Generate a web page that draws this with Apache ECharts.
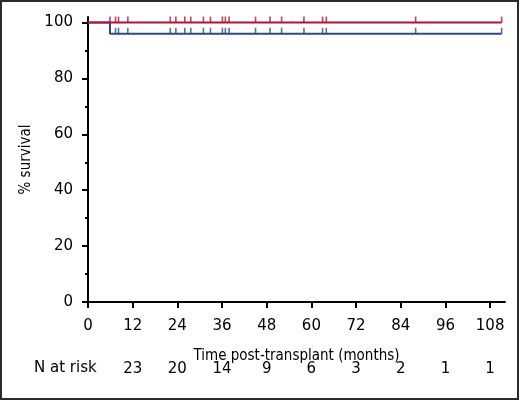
<!DOCTYPE html>
<html>
<head>
<meta charset="utf-8">
<script src="https://cdn.jsdelivr.net/npm/echarts@6/dist/echarts.min.js"></script>
<style>
html, body { margin: 0; padding: 0; background: #fff; }
#chart { width: 520px; height: 401px; }
</style>
</head>
<body>
<div id="chart"></div>
<script>
// axis ticks
var monthTicks = [0, 12, 24, 36, 48, 60, 72, 84, 96, 108];
var survivalTicks = [0, 20, 40, 60, 80, 100];
var survivalMinorTicks = [10, 30, 50, 70, 90];

// number at risk under the axis
var riskMonths = [12, 24, 36, 48, 60, 72, 84, 96, 108];
var riskCounts = [23, 20, 14, 9, 6, 3, 2, 1, 1];

// red curve (no events)
var redTimes = [0, 111.1];
var redValues = [100, 100];
var redCensor = [5.9, 7.4, 8.2, 10.7, 22.1, 23.6, 26.0, 27.6, 31.0, 32.9, 36.1, 36.9,
    37.9, 45.0, 48.9, 52.0, 58.0, 63.0, 64.0, 88.0, 111.1];

// blue curve (one event at ~6 months)
var blueTimes = [0, 5.9, 5.9, 111.1];
var blueValues = [100, 100, 96, 96];
var blueCensor = [7.4, 8.2, 10.7, 22.1, 23.6, 26.0, 27.6, 31.0, 32.9, 36.1, 36.9,
    37.9, 45.0, 48.9, 52.0, 58.0, 63.0, 64.0, 88.0, 111.1];

var RED = '#b3123b';
var BLUE = '#2c4a88';
var font = 'DejaVu Sans';
var narrow = '"DejaVu Sans Condensed", "Liberation Sans Narrow", Roboto, sans-serif';

function pairs(xs, ys) {
    var res = [];
    for (var i = 0; i < xs.length; i++) res.push([xs[i], ys[i]]);
    return res;
}
function censorPoints(times, level) {
    return times.map(function (t) { return [t, level]; });
}

var chart = echarts.init(document.getElementById('chart'));
var option = {
    backgroundColor: '#fff',
    animation: false,
    grid: { left: 88, right: 15, top: 17, bottom: 99 },
    xAxis: [
        {
            type: 'value', min: 0, max: 112,
            name: 'Time post-transplant (months)',
            nameLocation: 'middle', nameGap: 47,
            nameTextStyle: { fontFamily: narrow, fontSize: 15, color: '#000' },
            axisLine: { lineStyle: { color: '#000', width: 2 } },
            axisTick: { customValues: monthTicks, length: 6, lineStyle: { color: '#000', width: 2 } },
            axisLabel: { customValues: monthTicks, margin: 17, fontFamily: font, fontSize: 15, color: '#000' },
            splitLine: { show: false }
        },
        {
            type: 'value', min: 0, max: 112, position: 'bottom',
            axisLine: { show: false },
            axisTick: { show: false },
            axisLabel: {
                customValues: riskMonths, margin: 60, fontFamily: font, fontSize: 15, color: '#000',
                formatter: function (v) {
                    var i = riskMonths.indexOf(v);
                    return i >= 0 ? String(riskCounts[i]) : '';
                }
            },
            splitLine: { show: false }
        }
    ],
    yAxis: [
        {
            type: 'value', min: 0, max: 102,
            name: '% survival',
            nameLocation: 'middle', nameGap: 46, nameRotate: 90,
            nameTextStyle: { fontFamily: narrow, fontSize: 15, color: '#000' },
            axisLine: { lineStyle: { color: '#000', width: 2 } },
            axisTick: { customValues: survivalTicks, length: 6, lineStyle: { color: '#000', width: 2 } },
            axisLabel: { customValues: survivalTicks, margin: 15, fontFamily: font, fontSize: 15, color: '#000' },
            splitLine: { show: false }
        },
        {
            type: 'value', min: 0, max: 102, position: 'left',
            axisLine: { show: false },
            axisTick: { customValues: survivalMinorTicks, length: 3, lineStyle: { color: '#000', width: 2 } },
            axisLabel: { show: false },
            splitLine: { show: false }
        }
    ],
    graphic: [
        {
            type: 'rect', silent: true,
            shape: { x: 1, y: 1, width: 517, height: 398 },
            style: { fill: 'none', stroke: '#2b2b2b', lineWidth: 2 }
        },
        {
            type: 'text', left: 34, top: 361,
            style: { text: 'N at risk', font: '15px "DejaVu Sans"', fill: '#000' }
        }
    ],
    series: [
        {
            name: 'blue', type: 'line', data: pairs(blueTimes, blueValues),
            showSymbol: false, z: 2,
            lineStyle: { color: BLUE, width: 2 }
        },
        {
            name: 'blue censored', type: 'scatter', data: censorPoints(blueCensor, blueValues[blueValues.length - 1]),
            symbol: 'rect', symbolSize: [1.6, 6], symbolOffset: [0, -3], z: 2,
            itemStyle: { color: BLUE }
        },
        {
            name: 'red', type: 'line', data: pairs(redTimes, redValues),
            showSymbol: false, z: 3,
            lineStyle: { color: RED, width: 2 }
        },
        {
            name: 'red censored', type: 'scatter', data: censorPoints(redCensor, redValues[0]),
            symbol: 'rect', symbolSize: [1.6, 6], symbolOffset: [0, -3], z: 3,
            itemStyle: { color: RED }
        }
    ]
};
chart.setOption(option);
</script>
</body>
</html>
